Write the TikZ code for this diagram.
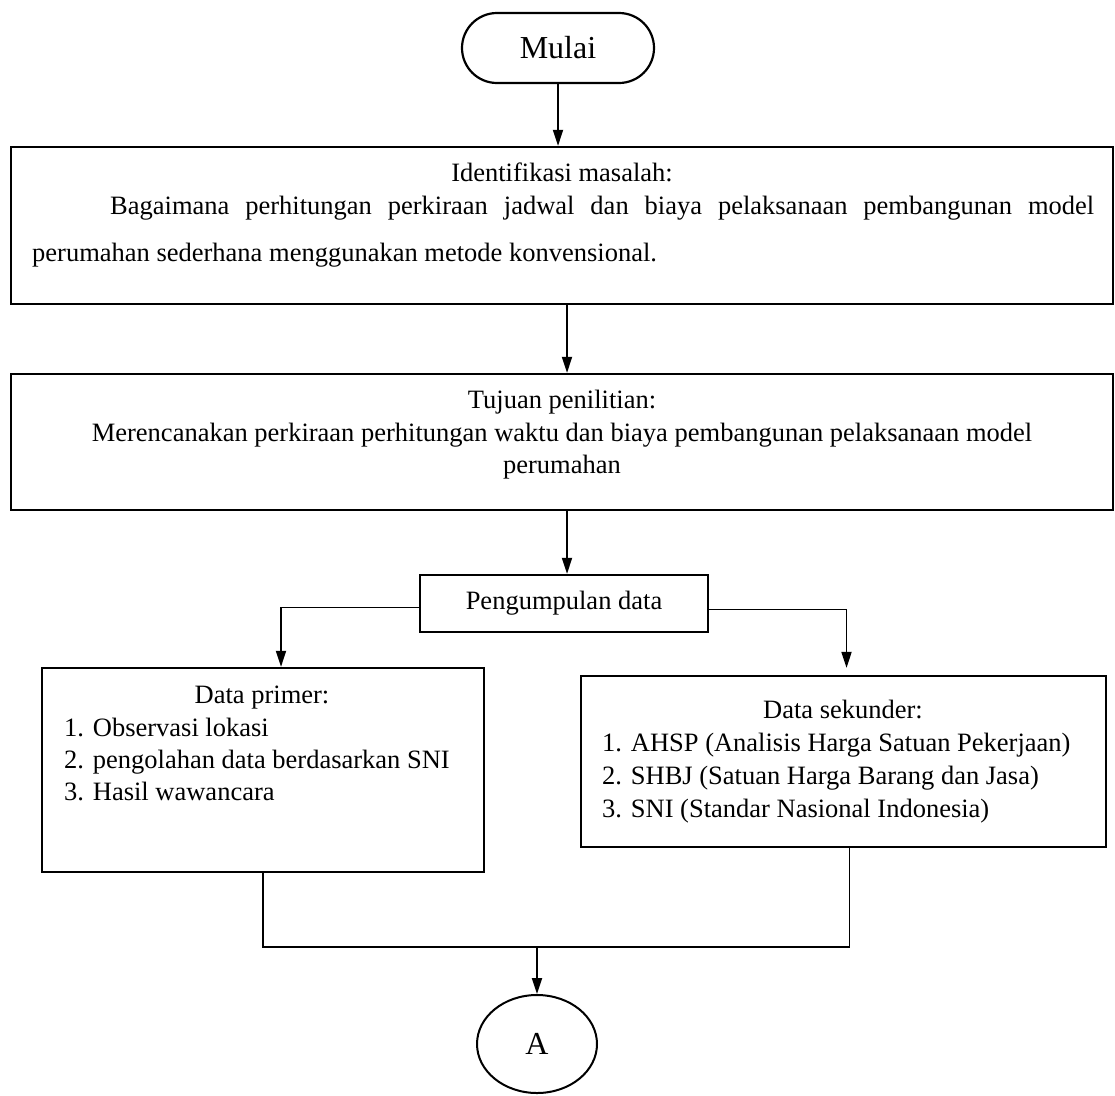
\documentclass[tikz,border=0pt]{standalone}
\usepackage{fontspec}
\setmainfont{Liberation Serif}
\usetikzlibrary{arrows.meta,shapes.misc,shapes.geometric}

\tikzset{
  box/.style={draw,line width=2.2pt,inner sep=0pt},
  txt/.style={inner sep=0pt,text height=18pt,text depth=6pt,font=\fontsize{26.5}{32}\selectfont},
  big/.style={font=\fontsize{32}{38}\selectfont},
  flow/.style={line width=1.8pt,-{Triangle[length=16pt,width=10pt]}},
  link/.style={line width=1.8pt}
}

\begin{document}
\begin{tikzpicture}[x=1pt,y=-1pt]
  \useasboundingbox (0,0) rectangle (1115,1095);
  % start
  \node[box,rounded rectangle,minimum width=192pt,minimum height=70pt,big] (mulai) at (558,48) {Mulai};
  % identifikasi masalah
  \node[box,minimum width=1102pt,minimum height=157pt] (masalah) at (562,225.5) {};
  \node[txt] (masalah-t) at (562,175) {Identifikasi masalah:};
  \node[txt,anchor=west] (masalah-a) at (110,208) {\makebox[984pt][s]{Bagaimana perhitungan perkiraan jadwal dan biaya pelaksanaan pembangunan model}};
  \node[txt,anchor=west] (masalah-b) at (32,255) {perumahan sederhana menggunakan metode konvensional.};
  % tujuan
  \node[box,minimum width=1102pt,minimum height=136pt] (tujuan) at (562,442) {};
  \node[txt] (tujuan-t) at (562,402) {Tujuan penilitian:};
  \node[txt] (tujuan-a) at (562,435) {Merencanakan perkiraan perhitungan waktu dan biaya pembangunan pelaksanaan model};
  \node[txt] (tujuan-b) at (562,467) {perumahan};
  % pengumpulan data
  \node[box,minimum width=288pt,minimum height=57pt,txt] (kumpul) at (564,603.5) {Pengumpulan data};
  % data primer
  \node[box,minimum width=442pt,minimum height=204pt] (primer) at (263,770) {};
  \node[txt] (primer-t) at (262,697) {Data primer:};
  \node[txt,anchor=west] (primer-1) at (64,730) {1. Observasi lokasi};
  \node[txt,anchor=west] (primer-2) at (64,762) {2. pengolahan data berdasarkan SNI};
  \node[txt,anchor=west] (primer-3) at (64,794) {3. Hasil wawancara};
  % data sekunder
  \node[box,minimum width=525pt,minimum height=171pt] (sekunder) at (843.5,761.5) {};
  \node[txt] (sekunder-t) at (843,712) {Data sekunder:};
  \node[txt,anchor=west] (sekunder-1) at (602,745) {1. AHSP (Analisis Harga Satuan Pekerjaan)};
  \node[txt,anchor=west] (sekunder-2) at (602,778) {2. SHBJ (Satuan Harga Barang dan Jasa)};
  \node[txt,anchor=west] (sekunder-3) at (602,811) {3. SNI (Standar Nasional Indonesia)};
  % penghubung
  \node[draw,ellipse,line width=2pt,inner sep=0pt,minimum width=120pt,minimum height=98pt,big] (huruf) at (537,1044) {A};
  \coordinate (join) at (537,947);

  \draw[flow] (mulai.south) -- (mulai.south |- masalah.north);
  \draw[flow] ([xshift=5pt]masalah.south) -- ([xshift=5pt]tujuan.north);
  \draw[flow] ([xshift=5pt]tujuan.south) -- ([xshift=5pt]tujuan.south |- kumpul.north);
  \draw[flow] ([yshift=-4pt]kumpul.west) -| ([xshift=18pt]primer.north);
  \draw[flow,shorten >=7pt] ([yshift=-6pt]kumpul.east) -| ([xshift=3pt]sekunder.north);
  \draw[link] (primer.south) |- (join) -| ([xshift=6pt]sekunder.south);
  \draw[flow] (join) -- (huruf.north);
\end{tikzpicture}
\end{document}
